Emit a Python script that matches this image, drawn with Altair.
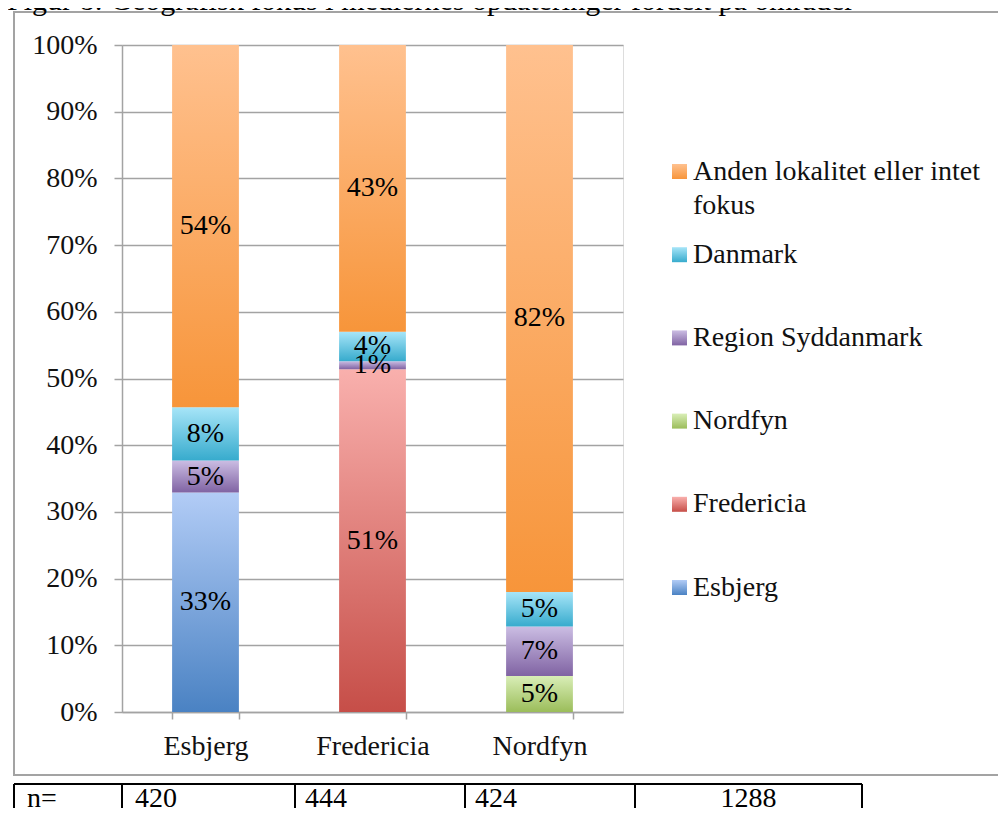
import altair as alt
import pandas as pd

# ---------------- data ----------------
areas = ["Esbjerg", "Fredericia", "Nordfyn"]
series = ["Esbjerg", "Fredericia", "Nordfyn", "Region Syddanmark", "Danmark",
          "Anden lokalitet eller intet fokus"]
esbjerg_vals = [32.9, 0, 0]
fredericia_vals = [0, 51.4, 0]
nordfyn_vals = [0, 0, 5.4]
region_vals = [4.8, 1.2, 7.4]
danmark_vals = [8.0, 4.4, 5.2]
anden_vals = [54.3, 43.0, 82.0]
legend_order = ["Anden lokalitet eller intet fokus", "Danmark", "Region Syddanmark",
                "Nordfyn", "Fredericia", "Esbjerg"]
legend_labels = ["Anden lokalitet eller intet\nfokus", "Danmark", "Region Syddanmark",
                 "Nordfyn", "Fredericia", "Esbjerg"]
table_cells = ["n=", "420", "444", "424", "1288"]
title_text = "Figur 8: Geografisk fokus i mediernes opdateringer fordelt på områder"
y_ticks = [0, 10, 20, 30, 40, 50, 60, 70, 80, 90, 100]

all_vals = [esbjerg_vals, fredericia_vals, nordfyn_vals, region_vals, danmark_vals, anden_vals]
rows = []
for si, (s, vals) in enumerate(zip(series, all_vals)):
    for a, v in zip(areas, vals):
        rows.append({"area": a, "series": s, "order": si, "value": v})
df = pd.DataFrame(rows)

# ---------------- styles ----------------
FONT = "Liberation Serif"
GRAY = "#a3a3a3"
grad_colors = {
    "Esbjerg": ("#b2ccf6", "#4a82c3"),
    "Fredericia": ("#f9b0ad", "#c64e48"),
    "Nordfyn": ("#d9eeb7", "#9bbd5a"),
    "Region Syddanmark": ("#cbbde3", "#8063a3"),
    "Danmark": ("#a7e5f8", "#37abcd"),
    "Anden lokalitet eller intet fokus": ("#ffc18f", "#f7953a"),
}


def grad(s):
    top, bottom = grad_colors[s]
    return alt.LinearGradient(
        gradient="linear", x1=0, y1=0, x2=0, y2=1,
        stops=[alt.GradientStop(color=top, offset=0),
               alt.GradientStop(color=bottom, offset=1)])


X = alt.X("area:N", sort=areas,
          scale=alt.Scale(domain=areas, paddingInner=0.6, paddingOuter=0.3),
          axis=alt.Axis(title=None, labelAngle=0, tickBand="extent", tickSize=7,
                        tickColor=GRAY, tickWidth=1.5, domainColor=GRAY, domainWidth=1.5,
                        labelFont=FONT, labelFontSize=28, labelColor="#111111",
                        labelPadding=13, grid=False))


def Yenc(field):
    return alt.Y(field, scale=alt.Scale(domain=[0, 100], nice=False),
                 axis=alt.Axis(title=None, values=y_ticks, labelExpr="datum.value + '%'",
                               tickSize=8, tickColor=GRAY, tickWidth=1.5,
                               domainColor=GRAY, domainWidth=1.5,
                               grid=True, gridColor=GRAY, gridWidth=1.5,
                               labelFont=FONT, labelFontSize=28, labelColor="#111111",
                               labelPadding=17))


base = (alt.Chart(df)
        .transform_filter("datum.value > 0")
        .transform_stack(stack="value", groupby=["area"], as_=["y0", "y1"],
                         sort=[alt.SortField("order", "ascending")]))

bar_layers = []
for s in series:
    bar_layers.append(
        base.transform_filter(alt.datum.series == s)
        .mark_bar(fill=grad(s))
        .encode(x=X, y=Yenc("y0:Q"), y2="y1:Q"))

labels = (base
          .transform_calculate(mid="(datum.y0 + datum.y1) / 2",
                               label="format(datum.value, '.0f') + '%'")
          .mark_text(font=FONT, fontSize=28, baseline="middle", color="#000000")
          .encode(x=X, y=Yenc("mid:Q"), text="label:N"))

main = alt.layer(*bar_layers, labels)

# ---------------- legend ----------------
leg_df = pd.DataFrame({"series": legend_order, "label": legend_labels})
LY = alt.Y("series:N", sort=legend_order,
           scale=alt.Scale(type="point", domain=legend_order, range=[126.5, 542.5], padding=0),
           axis=None)
sym_layers = []
for s in legend_order:
    sym_layers.append(
        alt.Chart(leg_df).transform_filter(alt.datum.series == s)
        .mark_square(size=225, fill=grad(s), opacity=1)
        .encode(x=alt.value(557.5), y=LY))
leg_text = (alt.Chart(leg_df)
            .mark_text(align="left", baseline="top", dy=-14, font=FONT, fontSize=28,
                       lineBreak="\n", lineHeight=34, color="#111111")
            .encode(x=alt.value(571), y=LY, text="label:N"))
legend = alt.layer(*sym_layers, leg_text)

# ---------------- decorations: frame, title, n-table ----------------
one = pd.DataFrame({"k": [0]})
frame = alt.Chart(one).mark_rect(fillOpacity=0, stroke=GRAY, strokeWidth=2).encode(
    x=alt.value(-108), x2=alt.value(900), y=alt.value(-33), y2=alt.value(730))
title = alt.Chart(one).mark_text(font=FONT, fontSize=30, align="left",
                                 baseline="alphabetic", color="#000000").encode(
    x=alt.value(-115), y=alt.value(-35), text=alt.value(title_text))

col_edges = [-108, 0, 173, 343, 513, 740]
cell_x = [-95, 13, 183, 353, 626.5]
cell_align = ["left", "left", "left", "left", "center"]
table_layers = [alt.Chart(one).mark_rule(color="#000000", strokeWidth=2).encode(
    x=alt.value(col_edges[0]), x2=alt.value(col_edges[-1]), y=alt.value(739))]
for ex in col_edges:
    table_layers.append(alt.Chart(one).mark_rule(color="#000000", strokeWidth=2).encode(
        x=alt.value(ex), y=alt.value(739), y2=alt.value(763)))
for txt, cx, al in zip(table_cells, cell_x, cell_align):
    table_layers.append(alt.Chart(one).mark_text(
        font=FONT, fontSize=28, align=al, baseline="alphabetic", color="#000000").encode(
        x=alt.value(cx), y=alt.value(762), text=alt.value(txt)))

deco = alt.layer(frame, title, *table_layers)

chart = (alt.layer(deco, main, legend)
         .resolve_scale(y="independent")
         .properties(width=501, height=667,
                     autosize=alt.AutoSizeParams(type="none"),
                     padding={"left": 114, "top": 37, "right": 375, "bottom": 96})
         .configure_view(stroke=None)
         .configure(background="white"))

chart.save("out.html", embed_options={"renderer": "svg", "actions": False})
